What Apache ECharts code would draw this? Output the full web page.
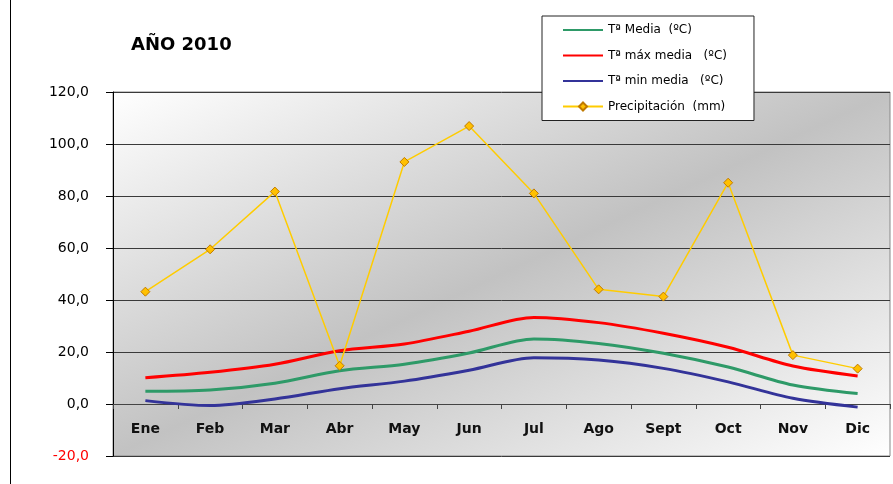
<!DOCTYPE html>
<html><head><meta charset="utf-8">
<script src="https://cdn.jsdelivr.net/npm/echarts@6/dist/echarts.min.js"></script>
<style>html,body{margin:0;padding:0;background:#fff}#c{width:893px;height:484px}</style>
</head><body><div id="c"></div>
<script>
const categories = ['Ene','Feb','Mar','Abr','May','Jun','Jul','Ago','Sept','Oct','Nov','Dic'];
const tMedia = [4.9, 5.4, 8.0, 12.8, 15.3, 19.6, 25.0, 23.3, 19.5, 14.2, 7.3, 4.0];
const tMax = [10.1, 12.2, 15.3, 20.5, 23.1, 28.0, 33.3, 31.3, 27.2, 21.8, 14.6, 10.8];
const tMin = [1.3, -0.6, 1.9, 5.9, 8.8, 13.0, 17.8, 16.9, 13.7, 8.5, 2.2, -1.2];
const precip = [43.2, 59.5, 81.7, 14.7, 93.1, 106.9, 81.0, 44.1, 41.3, 85.1, 18.8, 13.6];
const seriesNames = ['Tª Media  (ºC)', 'Tª máx media   (ºC)', 'Tª min media   (ºC)', 'Precipitación  (mm)'];
const title = 'AÑO 2010';

const chart = echarts.init(document.getElementById('c'));
const font = 'DejaVu Sans, Arial, sans-serif';
const lineLegend = n => ({ name: n, itemStyle: { opacity: 0 } });
chart.setOption({
  animation: false,
  title: { text: title, left: 126, top: 31, textStyle: { fontFamily: font, fontSize: 18, fontWeight: 'bold', color: '#000' } },
  legend: {
    orient: 'vertical', left: 542, top: 16,
    backgroundColor: '#fff', borderColor: '#222', borderWidth: 1,
    padding: [8, 27, 8, 20], itemGap: 13.5, itemWidth: 40, itemHeight: 10,
    textStyle: { fontFamily: font, fontSize: 12, color: '#000' },
    data: [lineLegend(seriesNames[0]), lineLegend(seriesNames[1]), lineLegend(seriesNames[2]), seriesNames[3]]
  },
  graphic: [{ type: 'line', shape: { x1: 10.5, y1: 0, x2: 10.5, y2: 484 }, style: { stroke: '#000', lineWidth: 1 } }],
  grid: {
    left: 113, right: 3, top: 92, bottom: 28, show: true,
    borderColor: '#888', borderWidth: 1,
    backgroundColor: { type: 'linear', x: 0.32, y: -0.32, x2: 0.68, y2: 1.32, colorStops: [
      { offset: 0, color: '#ffffff' }, { offset: 0.5, color: '#c2c2c2' }, { offset: 1, color: '#ffffff' } ] }
  },
  xAxis: {
    type: 'category', data: categories, boundaryGap: true, offset: -52,
    axisLine: { onZero: false, lineStyle: { color: '#444', width: 1 } },
    axisTick: { show: true, inside: false, length: 5, lineStyle: { color: '#444' } },
    axisLabel: { fontFamily: font, fontSize: 14, fontWeight: 'bold', color: '#111', margin: 18 }
  },
  yAxis: {
    type: 'value', min: -20, max: 120, interval: 20,
    axisLine: { show: true, lineStyle: { color: '#000', width: 1 } },
    axisTick: { show: true, length: 7, lineStyle: { color: '#000' } },
    splitLine: { show: true, lineStyle: { color: '#3a3a3a', width: 1 } },
    axisLabel: {
      fontFamily: font, fontSize: 14, margin: 24,
      formatter: v => v.toFixed(1).replace('.', ','),
      color: v => (v < 0 ? '#ff0000' : '#000')
    }
  },
  series: [
    { name: seriesNames[0], type: 'line', data: tMedia, smooth: 0.3, symbol: 'none', lineStyle: { color: '#2e9a68', width: 3 }, itemStyle: { color: '#2e9a68' } },
    { name: seriesNames[1], type: 'line', data: tMax, smooth: 0.3, symbol: 'none', lineStyle: { color: '#ff0000', width: 3 }, itemStyle: { color: '#ff0000' } },
    { name: seriesNames[2], type: 'line', data: tMin, smooth: 0.3, symbol: 'none', lineStyle: { color: '#333399', width: 3 }, itemStyle: { color: '#333399' } },
    { name: seriesNames[3], type: 'line', data: precip, symbol: 'diamond', symbolSize: 9, lineStyle: { color: '#ffcc00', width: 1.5 }, itemStyle: { color: '#ffc000', borderColor: '#c07a00', borderWidth: 1 } }
  ]
});
</script></body></html>
